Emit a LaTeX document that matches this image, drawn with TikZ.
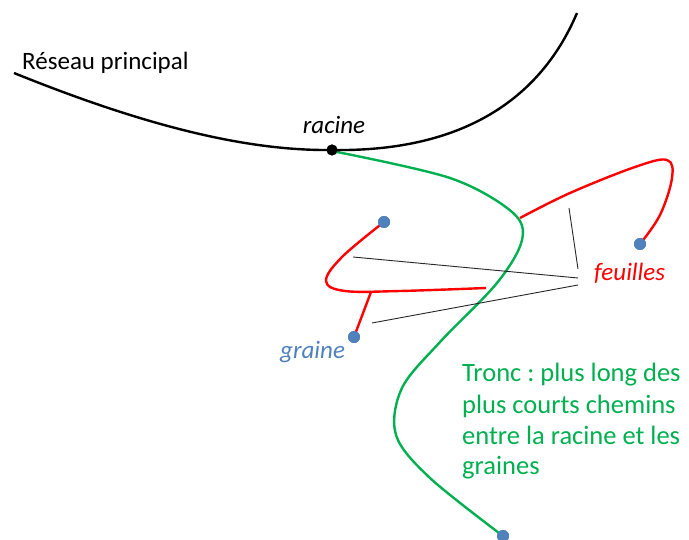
\documentclass[tikz,border=0pt]{standalone}
\usepackage{fontspec}
\setmainfont{Carlito}
\definecolor{pgreen}{RGB}{0,176,80}
\definecolor{pblue}{RGB}{79,129,189}
\definecolor{pred}{RGB}{255,0,0}
\frenchspacing
\begin{document}
\begin{tikzpicture}[x=1pt,y=-1pt,
  dotb/.style={circle,fill=pblue,inner sep=0pt,minimum size=12pt},
  dotk/.style={circle,fill=black,inner sep=0pt,minimum size=11pt},
  thin line/.style={line width=0.9pt,draw=black!85},
  lab/.style={inner sep=0pt,font=\fontsize{25}{30}\selectfont},
  ilab/.style={inner sep=0pt,font=\fontsize{25}{30}\selectfont\itshape}]
\useasboundingbox (0,0) rectangle (689,540);
% main network
\coordinate (s) at (14,73);
\coordinate (e) at (577,13);
\node[dotb] (g4) at (503,536) {};
\node[dotk] (r) at (332,150) {};
\draw[line width=2.4pt,pgreen] plot[smooth,tension=0.55] coordinates {(332,151) (450,178) (512,212) (522,240) (497,283) (440,342) (402,388) (396,435) (430,478) (503,536)};
\draw[line width=2.4pt,black] (s) .. controls (150,128) and (250,151) .. (r.center) .. controls (455,152) and (538,105) .. (e);
\node[dotk] at (r) {};
% red leaves
\node[dotb] (g2) at (640,244) {};
\node[dotb] (g1) at (384,222) {};
\node[dotb] (g3) at (354,337) {};
\draw[line width=2.4pt,pred] plot[smooth,tension=0.6] coordinates {(520,218) (570,193) (635,167) (667,160) (672,178) (660,215) (640,244)};
\draw[line width=2.4pt,pred] plot[smooth,tension=0.6] coordinates {(384,222) (342,257) (326,281) (345,291) (400,291) (486,288)};
\draw[line width=2.4pt,pred] (371,292) -- (g3.center);
\node[dotb] at (g2) {};
\node[dotb] at (g1) {};
\node[dotb] at (g3) {};
\node[dotb] at (g4) {};
% labels
\node[lab,anchor=base west] (rp) at (22,70) {Réseau principal};
\node[ilab,anchor=base] (rac) at (334,134) {racine};
\node[ilab,anchor=base west,text=pred] (f) at (594,281) {feuilles};
\node[ilab,anchor=base west,text=pblue] (gr) at (280,359) {graine};
\node[anchor=base west,inner sep=0pt,text=pgreen,align=left,font=\fontsize{26.5}{31}\selectfont] (tr) at (462,475) {Tronc : plus long des\\plus courts chemins\\entre la racine et les\\graines};
% pointer lines
\coordinate (p0) at (578,269);
\coordinate (p1) at (578,278);
\coordinate (p2) at (578,285);
\draw[thin line] (569,208) -- (p0);
\draw[thin line] (353,257) -- (p1);
\draw[thin line] (372,323) -- (p2);
\end{tikzpicture}
\end{document}
